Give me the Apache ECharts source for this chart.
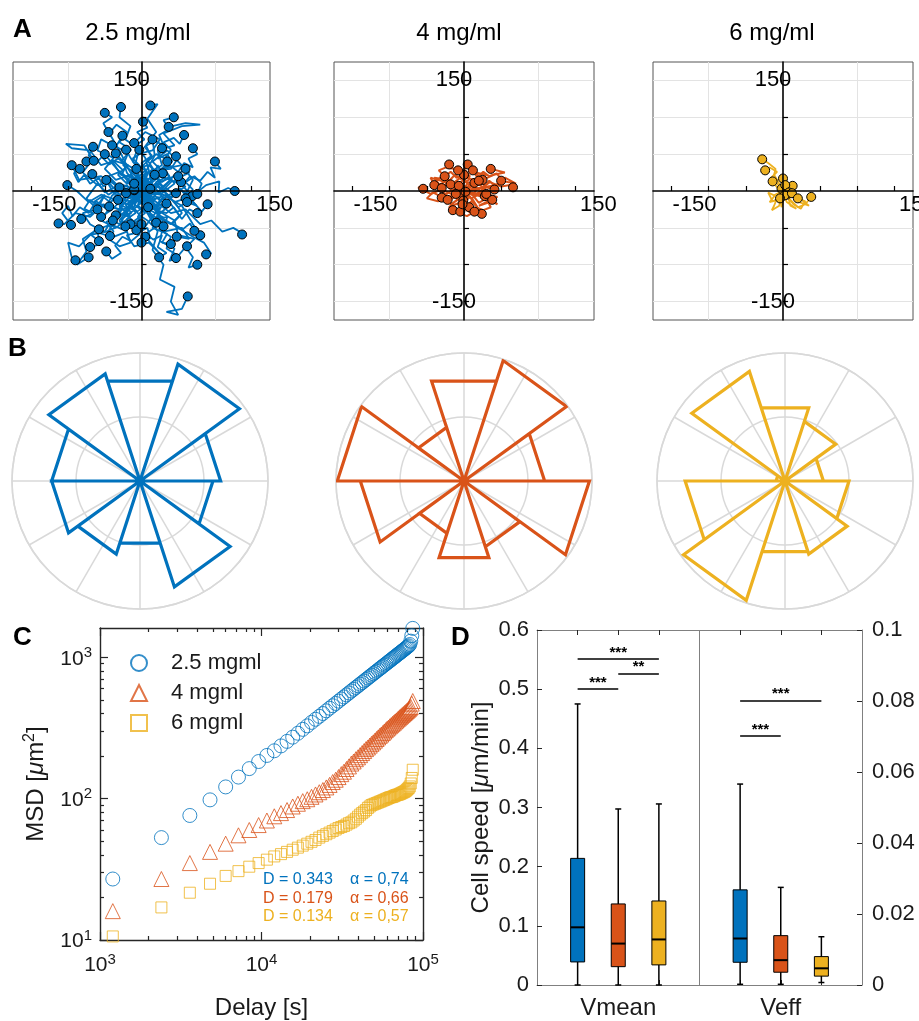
<!DOCTYPE html>
<html><head><meta charset="utf-8">
<script src="https://cdn.jsdelivr.net/npm/echarts@6/dist/echarts.min.js"></script>
<style>html,body{margin:0;padding:0;background:#fff}#c{width:919px;height:1021px}</style>
</head><body><div id="c"></div><script>
// ---------------- DATA ----------------
const concTitles = ['2.5 mg/ml', '4 mg/ml', '6 mg/ml'];
const legendNames = ['2.5 mgml', '4 mgml', '6 mgml'];
const colors = ['#0072BD', '#D95319', '#EDB120'];
const fitD = ['0.343', '0.179', '0.134'];
const fitAlpha = ['0,74', '0,66', '0,57'];

const trackTicks = [-150, -100, -50, 50, 100, 150];
const trackTickLabels = [-150, 150];
const trackGridX = [-100, 100];

const tracks25 = [
 [[0,0],[-8,15],[5,28],[-12,40],[-5,58],[-22,70],[-15,88],[-30,100],[-28,114]],
 [[0,0],[10,12],[-4,30],[14,45],[6,62],[20,80],[8,98],[22,118],[12,116]],
 [[0,0],[15,8],[10,25],[28,35],[22,55],[45,62],[30,78],[55,88],[80,90],[60,92],[37,87]],
 [[0,0],[-15,10],[-5,22],[-25,35],[-18,52],[-35,60],[-26,75]],
 [[0,0],[12,-6],[25,10],[18,28],[40,30],[52,48],[47,47]],
 [[0,0],[-15,5],[-30,-5],[-45,12],[-60,8],[-80,25],[-65,45],[-75,40]],
 [[0,0],[-10,18],[-28,22],[-40,40],[-55,35],[-70,55],[-95,58],[-103,64],[-78,62],[-65,41]],
 [[0,0],[-20,-8],[-35,6],[-50,-2],[-62,15],[-67,23]],
 [[0,0],[-12,-10],[-25,5],[-38,-3],[-48,15]],
 [[0,0],[-20,3],[-35,-12],[-55,-5],[-72,-15],[-88,0],[-101,8]],
 [[0,0],[-18,-10],[-30,-25],[-52,-18],[-70,-35],[-90,-30],[-105,-45],[-113,-44]],
 [[0,0],[18,5],[30,-10],[50,2],[70,-6],[88,8],[106,13],[105,-2],[118,4],[127,0]],
 [[0,0],[15,-12],[35,-5],[50,-22],[68,-12],[82,-28],[90,-18]],
 [[0,0],[20,-20],[38,-15],[55,-38],[65,-25],[76,-30]],
 [[0,0],[22,6],[40,-8],[58,5],[69,-7]],
 [[0,0],[18,20],[30,5],[45,22],[54,12]],
 [[0,0],[20,-15],[40,-30],[60,-25],[80,-45],[95,-40],[110,-55],[125,-50],[142,-60],[137,-59]],
 [[0,0],[-10,-15],[-25,-12],[-30,-35],[-48,-42],[-38,-55],[-43,-61]],
 [[0,0],[-15,-20],[-35,-30],[-50,-55],[-70,-60],[-85,-75],[-100,-70],[-95,-90],[-90,-94]],
 [[0,0],[-20,-25],[-40,-45],[-60,-52],[-80,-65],[-75,-82],[-88,-100],[-72,-90]],
 [[0,0],[10,-20],[25,-30],[15,-50],[35,-58],[28,-70],[40,-72]],
 [[0,0],[20,-25],[45,-40],[50,-60],[72,-65],[62,-75]],
 [[0,0],[12,-30],[30,-45],[25,-68],[45,-78],[38,-95],[47,-91]],
 [[0,0],[25,-35],[50,-50],[70,-62],[85,-70],[95,-85],[88,-86]],
 [[0,0],[8,-30],[22,-55],[15,-80],[30,-100],[25,-120],[45,-130],[40,-150],[50,-168],[34,-164],[55,-160],[63,-143]],
 [[0,0],[10,-15],[25,-22],[15,-35],[20,-43]],
 [[0,0],[-10,-18],[5,-30],[-12,-42],[-7,-53]],
 [[0,0],[12,-10],[2,-18],[9,-22]],
 [[0,0],[-12,8],[-21,-3]],
 [[0,0],[-6,-8],[-10,1]],
 [[0,0],[-15,-20],[-32,-12]],
 [[0,0],[-20,-5],[-30,-25],[-44,-21]],
 [[0,0],[-12,-25],[-28,-20],[-35,-33]],
 [[0,0],[15,-25],[28,-10],[34,-17]],
 [[0,0],[25,10],[38,-12],[47,-3]],
 [[0,0],[-20,-30],[-30,-45],[-39,-40]],
 [[0,0],[15,15],[22,35],[29,24]],
 [[0,0],[8,15],[-10,22],[-7,30]],
 [[0,0],[-20,25],[-25,40],[-35,51]],
 [[0,0],[-5,30],[-15,45],[-21,56]],
 [[0,0],[10,28],[5,45],[-3,56]],
 [[0,0],[-15,-15],[-8,-30],[-20,-38],[-15,-45]],
 [[0,0],[5,-20],[-5,-35],[0,-45]],
 [[0,0],[20,-20],[25,-40],[30,-48]],
 [[0,0],[-25,-10],[-40,-25],[-55,-35]],
 [[0,0],[20,20],[28,30],[35,40]],
 [[0,0],[25,12],[45,20],[60,30]],
 [[0,0],[-20,15],[-38,35],[-50,50]],
 [[0,0],[5,25],[18,48],[15,70]],
 [[0,0],[-18,30],[-30,55],[-45,80]],
 [[0,0],[30,-5],[55,-20],[70,-45],[80,-60]],
 [[0,0],[-30,5],[-55,20],[-85,15],[-95,35]],
 [[0,0],[12,8],[-5,18],[-20,10],[-32,22],[-18,35],[-40,42],[-25,28],[-45,20],[-30,5]],
 [[0,0],[-10,-12],[8,-20],[22,-8],[35,-22],[20,-35],[40,-45],[55,-30],[45,-15],[60,-10]],
 [[0,0],[15,12],[30,25],[15,40],[35,55],[50,40],[65,25],[45,15],[60,5],[50,20]],
 [[0,0],[-18,-5],[-30,-20],[-15,-35],[-35,-50],[-55,-40],[-45,-25],[-65,-15],[-50,-5],[-60,-25]],
 [[0,0],[5,15],[25,20],[10,35],[-10,30],[-5,50],[15,55],[25,70],[5,80],[-10,65]],
 [[0,0],[-5,-20],[15,-35],[0,-55],[-20,-60],[-10,-75],[10,-70],[25,-85],[5,-62]],
 [[0,0],[25,-5],[45,10],[30,30],[55,35],[70,15],[60,-5],[75,-20],[62,-15]],
 [[0,0],[-25,8],[-45,-5],[-60,10],[-75,-10],[-60,-25],[-80,-30],[-70,-45],[-58,-52]],
 [[0,0],[10,-5],[-5,-10],[8,12],[-12,5],[5,-15],[-8,18],[12,3]],
 [[0,0],[-8,6],[6,-4],[-12,-10],[14,10],[-4,14],[3,-12],[-10,2]],
 [[0,0],[20,10],[35,-5],[25,-25],[10,-15],[28,5],[40,15],[18,22]],
 [[0,0],[-15,22],[-35,15],[-50,30],[-38,45],[-60,55],[-55,70],[-40,62]],
 [[0,0],[15,-40],[35,-35],[30,-55],[55,-50],[65,-65],[48,-62]],
 [[0,0],[-30,-40],[-20,-55],[-45,-65],[-30,-75],[-15,-70],[-22,-48]],
 [[0,0],[8,-6],[15,4],[6,14],[18,22],[28,12],[38,20],[30,32],[42,40],[35,50],[22,44],[28,58]],
 [[0,0],[-6,-8],[-16,-2],[-24,-12],[-34,-4],[-42,-16],[-52,-8],[-60,-20],[-70,-12],[-78,-24],[-66,-30],[-82,-38]],
 [[0,0],[4,10],[-6,20],[-16,14],[-26,24],[-20,36],[-32,44],[-44,36],[-54,46],[-62,38],[-72,48],[-66,60]],
 [[0,0],[-4,-12],[6,-22],[-4,-32],[8,-40],[18,-50],[6,-58],[16,-66],[28,-60],[22,-76],[34,-84],[24,-90]],
 [[0,0],[10,4],[22,-4],[34,4],[44,-6],[52,4],[62,-8],[70,2],[60,12],[72,20],[82,10],[76,-4]],
 [[0,0],[-10,6],[-4,16],[-14,26],[-2,34],[-12,44],[0,52],[-8,62],[4,70],[-6,80],[8,86],[2,94]],
 [[0,0],[6,-10],[16,-4],[26,-14],[20,-26],[34,-30],[44,-22],[52,-34],[42,-44],[56,-52],[66,-44],[72,-54]],
 [[0,0],[-8,-6],[-18,-16],[-10,-26],[-22,-34],[-34,-28],[-44,-38],[-36,-50],[-50,-56],[-60,-48],[-68,-60],[-58,-68]],
 [[0,0],[12,10],[4,22],[16,30],[8,42],[20,50],[32,44],[40,56],[30,66],[44,72],[52,64],[58,76]],
 [[0,0],[-12,-4],[-20,8],[-32,2],[-40,14],[-52,6],[-58,18],[-70,10],[-78,22],[-86,12],[-92,24],[-84,30]],
 [[0,0],[2,-14],[-10,-24],[0,-36],[-12,-46],[-2,-58],[-14,-68],[-26,-62],[-36,-74],[-28,-84],[-40,-92],[-48,-82]],
 [[0,0],[14,-2],[20,12],[32,18],[26,30],[40,34],[50,26],[58,38],[70,32],[64,44],[76,50],[70,58]],
 [[0,0],[-14,2],[-8,-12],[-22,-18],[-14,-30],[-28,-38],[-20,-48],[-8,-42],[-4,-56],[8,-50],[12,-64],[0,-70]],
 [[0,0],[6,8],[-8,12],[-2,-6],[10,-4],[-6,-2],[4,16],[-12,-8],[14,6],[-4,-16],[8,-12],[-10,10]],
 [[0,0],[-20,12],[-10,30],[-28,40],[-14,56],[-30,66],[-20,80],[-34,90],[-44,78],[-52,92],[-40,100],[-50,106]],
 [[0,0],[18,-10],[12,-26],[30,-36],[24,-52],[40,-62],[34,-78],[50,-88],[60,-76],[70,-90],[64,-104],[76,-100]],
 [[0,0],[-16,-10],[-26,4],[-40,-6],[-48,-22],[-62,-14],[-72,-30],[-84,-22],[-94,-34],[-100,-20],[-108,-30],[-96,-46]],
 [[0,0],[16,8],[30,2],[42,14],[56,8],[66,20],[80,14],[90,26],[100,18],[94,32],[108,30],[100,40]],
 [[0,0],[-6,14],[8,24],[0,38],[14,48],[4,60],[18,68],[30,62],[24,76],[38,84],[30,96],[44,100]],
 [[0,0],[8,-18],[-6,-28],[-16,-18],[-24,-30],[-12,-40],[-26,-52],[-40,-46],[-48,-60],[-60,-56],[-56,-72],[-70,-76]]
];
const tracks4 = [
 [[0,0],[-5,12],[8,20],[0,30],[5,36]],
 [[0,0],[12,8],[25,15],[40,22],[55,25],[36,30]],
 [[0,0],[-10,8],[-20,5],[-30,22],[-26,20]],
 [[0,0],[-15,-5],[-30,2],[-45,-4],[-62,5],[-55,3]],
 [[0,0],[-8,10],[-18,9]],
 [[0,0],[-4,3],[-7,7]],
 [[0,0],[8,5],[14,11]],
 [[0,0],[20,2],[35,12],[50,6],[62,8],[66,5]],
 [[0,0],[15,-5],[30,5],[41,2]],
 [[0,0],[-12,-8],[-25,-15],[-30,-9]],
 [[0,0],[-6,-6],[-11,-4]],
 [[0,0],[5,-8],[-1,-13]],
 [[0,0],[-5,-15],[7,-22]],
 [[0,0],[12,-12],[20,-25],[24,-31]],
 [[0,0],[15,-3],[28,-7]],
 [[0,0],[2,-1]],
 [[0,0],[-10,-12],[-20,-22],[-15,-26]],
 [[0,0],[-25,12],[-45,18],[-40,8]],
 [[0,0],[30,-10],[45,-18],[38,-12]],
 [[0,0],[-10,5],[-25,-5],[-35,8],[-20,15],[-40,18],[-30,4]],
 [[0,0],[10,-10],[25,-2],[35,-15],[20,-20],[45,-8],[30,-4]],
 [[0,0],[5,12],[20,8],[30,22],[15,25],[25,15]],
 [[0,0],[-5,-10],[-18,-18],[-10,-25],[5,-20],[-5,-28]],
 [[0,0],[15,15],[-5,20],[10,5],[-15,10],[0,22]],
 [[0,0],[25,5],[45,8],[55,18],[70,10],[50,14]],
 [[0,0],[-20,-8],[-35,-14],[-50,-10],[-42,-2],[-22,-12]],
 [[0,0],[6,4],[-4,8],[-12,2],[-6,-6],[4,-2],[10,8],[18,4],[12,-6],[22,-2],[28,8],[20,14]],
 [[0,0],[-6,6],[-16,0],[-24,10],[-32,2],[-38,12],[-30,20],[-20,14],[-12,22],[-4,16],[2,26],[-8,28]],
 [[0,0],[4,-6],[-6,-10],[-14,-4],[-22,-12],[-16,-20],[-6,-16],[2,-22],[10,-14],[16,-20],[8,-8],[-2,-18]],
 [[0,0],[10,2],[18,12],[26,4],[34,14],[42,6],[50,16],[44,24],[34,20],[26,26],[18,18],[12,28]],
 [[0,0],[-8,-2],[-2,10],[8,16],[2,24],[-10,18],[-18,26],[-26,20],[-34,28],[-24,32],[-14,30],[-20,36]],
 [[0,0],[12,-6],[20,-16],[30,-10],[36,-22],[26,-26],[16,-22],[10,-30],[0,-24],[-6,-30],[4,-34],[14,-28]]
];
const tracks6 = [
 [[0,0],[-5,10],[-12,22],[-10,30],[-20,38],[-28,43]],
 [[0,0],[-8,5],[-14,13]],
 [[0,0],[3,10],[0,17]],
 [[0,0],[8,2],[13,7]],
 [[0,0],[3,-3],[5,-5]],
 [[0,0],[10,-12],[20,-22],[30,-18],[38,-8]],
 [[0,0],[-8,-10],[-12,-20],[-15,-26],[-5,-20],[-2,3]],
 [[0,0],[5,-15],[18,-24],[10,-20],[3,8]],
 [[0,0],[-10,-5],[-18,-15],[-8,-12],[8,-2]],
 [[0,0],[-4,-8],[-2,-22],[2,-6]],
 [[0,0],[-12,-6],[-20,-2],[-14,-14],[-4,-10]],
 [[0,0],[12,-6],[22,-15],[35,-20],[25,-12],[12,-3]],
 [[0,0],[-6,8],[-16,18],[-8,26],[-18,32],[-24,28]],
 [[0,0],[6,-8],[14,-18],[24,-24],[30,-14],[20,-10]]
];

// rose histograms: bin edges (deg) and normalised bin lengths
const roseEdgesDeg = [0, 36, 72, 108, 144, 180, 216, 252, 288, 324, 360];
const rose25 = [0.63, 0.96, 0.82, 0.88, 0.69, 0.69, 0.60, 0.51, 0.87, 0.57];
const rose4  = [0.63, 0.99, 0.82, 0.44, 0.99, 0.81, 0.43, 0.63, 0.54, 0.98];
const rose6  = [0.30, 0.49, 0.60, 0.90, 0.07, 0.78, 0.98, 0.58, 0.60, 0.50];

// MSD
const delays = [1200,2400,3600,4800,6000,7200,8400,9600,10800,12000,13200,14400,15600,16800,18000,19200,20400,21600,22800,24000,25200,26400,27600,28800,30000,31200,32400,33600,34800,36000,37200,38400,39600,40800,42000,43200,44400,45600,46800,48000,49200,50400,51600,52800,54000,55200,56400,57600,58800,60000,61200,62400,63600,64800,66000,67200,68400,69600,70800,72000,73200,74400,75600,76800,78000,79200,80400,81600,82800,84000,85200,86400];
const msd25 = [27,53,76,98,121,142,163,183,202,218,236,254,272,290,309,327,346,364,382,400,418,436,454,471,489,507,524,542,559,577,594,611,628,645,662,679,696,713,730,747,764,780,797,814,830,847,863,880,896,913,929,945,962,978,994,1010,1027,1043,1059,1075,1091,1107,1123,1139,1156,1172,1188,1205,1230,1300,1420,1600];
const msd4 = [16,27,35,42,48,55,60,65,70,75,79,83,88,92,96,99,103,107,111,115,120,125,131,136,142,149,155,162,169,177,183,190,196,203,210,217,224,230,237,244,250,257,264,271,278,284,291,298,305,312,318,325,331,338,344,351,357,364,370,377,383,390,396,403,409,416,422,429,436,445,470,490];
const msd6 = [10.6,17,21.6,25,28.4,30.7,33,35,37,39,40.5,42,43.5,45,46.5,48,49.5,51,53,54.5,56,57.5,59,60.5,62,63,64,65.5,67,68,70,72,74.5,77,79,81,83,86,88,90,91,92,93,94,95,96,97,98,99,100,101,102,102.5,103,104,105,106,106.5,107,108,109,110,111,112,113,115,117,119,122,128,140,160];
const xMajor = [1000, 10000, 100000];
const xMinor = [2000,3000,4000,5000,6000,7000,8000,9000,20000,30000,40000,50000,60000,70000,80000,90000];
const yMajor = [10, 100, 1000];
const yMinor = [20,30,40,50,60,70,80,90,200,300,400,500,600,700,800,900];

// Cell speed boxplots: [min, q1, median, q3, max]
const speedGroups = ['Vmean', 'Veff'];
const vmeanStats = [[0,0.039,0.0975,0.214,0.475],[0,0.031,0.070,0.137,0.2975],[0,0.034,0.077,0.142,0.306]];
const veffStats = [[0.0002,0.0064,0.0131,0.0268,0.0566],[0.0002,0.0036,0.0070,0.0139,0.0275],[0.0007,0.0025,0.0047,0.0080,0.0136]];
// significance bars: [fromBox, toBox, level, label]
const sigVmean = [[0,2,0.551,'***'],[1,2,0.526,'**'],[0,1,0.500,'***']];
const sigVeff = [[0,2,0.0801,'***'],[0,1,0.0701,'***']];

// ---------------- CHART ----------------
const FONT = "'Liberation Sans', Arial, Helvetica, sans-serif";
const TXT = '#1a1a1a';
const chart = echarts.init(document.getElementById('c'), null, {renderer:'canvas', width:919, height:1021});
const option = {animation:false, backgroundColor:'#fff', textStyle:{fontFamily:FONT},
  grid:[], xAxis:[], yAxis:[], polar:[], angleAxis:[], radiusAxis:[], series:[], graphic:[]};

// ---- Panel A ----
const aGrids = [[13,257],[334,260],[653,260]];
const aH = 258;
const trackSets = [tracks25, tracks4, tracks6];
const trackWidths = [1.8, 2, 1.8];
aGrids.forEach((g, i) => {
  const gi = option.grid.length;
  option.grid.push({left:g[0], top:62, width:g[1], height:aH, show:true, borderColor:'#555', borderWidth:1, backgroundColor:'#fff', outerBoundsMode:'none'});
  const xm = option.xAxis.length;
  option.xAxis.push({gridIndex:gi, type:'value', min:-175, max:175, z:10, position:'bottom', offset:-aH/2,
    axisLine:{show:true, onZero:false, lineStyle:{color:'#000', width:1.6}},
    axisTick:{show:true, inside:true, length:5, customValues:trackTicks, lineStyle:{color:'#000', width:1.2}},
    axisLabel:{show:true, customValues:trackTickLabels, fontSize:22, color:'#000', margin:3, padding:[0,0,0,46]},
    splitLine:{show:false}});
  option.xAxis.push({gridIndex:gi, type:'value', min:-175, max:175, z:1, position:'top',
    axisLine:{show:false, onZero:false}, axisTick:{show:false, customValues:trackGridX}, axisLabel:{show:false},
    splitLine:{show:true, lineStyle:{color:'#e3e3e3', width:1}}});
  const ym = option.yAxis.length;
  option.yAxis.push({gridIndex:gi, type:'value', min:-175, max:175, z:10, position:'left', offset:-g[1]/2,
    axisLine:{show:true, onZero:false, lineStyle:{color:'#000', width:1.6}},
    axisTick:{show:true, inside:true, length:5, customValues:trackTicks, lineStyle:{color:'#000', width:1.2}},
    axisLabel:{show:true, customValues:trackTickLabels, fontSize:22, color:'#000', align:'center', margin:10},
    splitLine:{show:false}});
  option.yAxis.push({gridIndex:gi, type:'value', min:-175, max:175, z:1, position:'right',
    axisLine:{show:false, onZero:false}, axisTick:{show:false, customValues:trackTicks}, axisLabel:{show:false},
    splitLine:{show:true, lineStyle:{color:'#e3e3e3', width:1}}});
  trackSets[i].forEach(t => option.series.push({type:'line', xAxisIndex:xm, yAxisIndex:ym, data:t, symbol:'none',
    lineStyle:{color:colors[i], width:trackWidths[i]}, silent:true, z:3}));
  option.series.push({type:'scatter', xAxisIndex:xm, yAxisIndex:ym, data:trackSets[i].map(t => t[t.length-1]),
    symbolSize:9, itemStyle:{color:colors[i], borderColor:'#000', borderWidth:1, opacity:1}, silent:true, z:4});
  option.graphic.push({type:'text', x:[138,459,772][i], y:33, style:{text:concTitles[i], font:'24px ' + FONT, fill:'#000', align:'center', verticalAlign:'middle'}});
});

// ---- Panel B ----
const roseSets = [rose25, rose4, rose6];
const roseCx = [140, 464, 785];
roseSets.forEach((r, i) => {
  option.polar.push({center:[roseCx[i], 481], radius:128});
  option.angleAxis.push({polarIndex:i, type:'value', min:0, max:360, startAngle:0, clockwise:false, interval:30,
    axisLine:{show:true, lineStyle:{color:'#d9d9d9', width:1.5}}, axisTick:{show:false}, axisLabel:{show:false},
    splitLine:{show:true, lineStyle:{color:'#d9d9d9', width:1.5}}});
  option.radiusAxis.push({polarIndex:i, type:'value', min:0, max:1, interval:0.5,
    axisLine:{show:false}, axisTick:{show:false}, axisLabel:{show:false},
    splitLine:{show:true, lineStyle:{color:'#d9d9d9', width:1.5}}});
  const pts = [];
  r.forEach((v, k) => { pts.push([0, roseEdgesDeg[k]], [v, roseEdgesDeg[k]], [v, roseEdgesDeg[k+1]], [0, roseEdgesDeg[k+1]]); });
  option.series.push({type:'line', coordinateSystem:'polar', polarIndex:i, data:pts, symbol:'none',
    lineStyle:{color:colors[i], width:3.2, join:'miter'}, silent:true, z:3});
});

// ---- Panel C ----
const cg = option.grid.length;
option.grid.push({left:100, top:628, width:323, height:312, outerBoundsMode:'none'});
const supFmt = v => '{b|10}{s|' + Math.round(Math.log10(v)) + '}';
const supRich = {b:{fontSize:21, lineHeight:24, verticalAlign:'bottom', color:TXT, fontFamily:FONT},
                 s:{fontSize:15, lineHeight:15, padding:[0,0,17,0], verticalAlign:'top', color:TXT, fontFamily:FONT}};
const nameRich = {t:{fontSize:24, lineHeight:26, verticalAlign:'bottom', color:TXT, fontFamily:FONT},
                  i:{fontSize:24, lineHeight:26, verticalAlign:'bottom', fontStyle:'italic', color:TXT, fontFamily:FONT},
                  s:{fontSize:16, lineHeight:16, padding:[0,0,14,0], verticalAlign:'top', color:TXT, fontFamily:FONT}};
const boxLine = {show:true, onZero:false, lineStyle:{color:'#262626', width:1.4}};
const cxMain = option.xAxis.length;
function logAxis(extra) { return Object.assign({gridIndex:cg, type:'log', logBase:10, splitLine:{show:false}, axisLabel:{show:false}, axisLine:{show:false, onZero:false}}, extra); }
option.xAxis.push(logAxis({position:'bottom', min:1000, max:100000, axisLine:boxLine,
  axisTick:{show:true, inside:true, length:8, customValues:xMajor, lineStyle:{color:'#262626', width:1.2}},
  axisLabel:{show:true, customValues:xMajor, formatter:supFmt, rich:supRich, margin:12},
  name:'{t|Delay [s]}', nameLocation:'middle', nameGap:54, nameTextStyle:{rich:nameRich}}));
option.xAxis.push(logAxis({position:'bottom', min:1000, max:100000,
  axisTick:{show:true, inside:true, length:4, customValues:xMinor, lineStyle:{color:'#262626', width:1.2}}}));
option.xAxis.push(logAxis({position:'top', min:1000, max:100000, axisLine:boxLine,
  axisTick:{show:true, inside:true, length:8, customValues:xMajor, lineStyle:{color:'#262626', width:1.2}}}));
option.xAxis.push(logAxis({position:'top', min:1000, max:100000,
  axisTick:{show:true, inside:true, length:4, customValues:xMinor, lineStyle:{color:'#262626', width:1.2}}}));
const cyMain = option.yAxis.length;
option.yAxis.push(logAxis({position:'left', min:10, max:1610, axisLine:boxLine,
  axisTick:{show:true, inside:true, length:8, customValues:yMajor, lineStyle:{color:'#262626', width:1.2}},
  axisLabel:{show:true, customValues:yMajor, formatter:supFmt, rich:supRich, margin:8},
  name:'{t|MSD [}{i|μ}{t|m}{s|2}{t|]}', nameLocation:'middle', nameGap:52, nameTextStyle:{rich:nameRich}}));
option.yAxis.push(logAxis({position:'left', min:10, max:1610,
  axisTick:{show:true, inside:true, length:4, customValues:yMinor, lineStyle:{color:'#262626', width:1.2}}}));
option.yAxis.push(logAxis({position:'right', min:10, max:1610, axisLine:boxLine,
  axisTick:{show:true, inside:true, length:8, customValues:yMajor, lineStyle:{color:'#262626', width:1.2}}}));
option.yAxis.push(logAxis({position:'right', min:10, max:1610,
  axisTick:{show:true, inside:true, length:4, customValues:yMinor, lineStyle:{color:'#262626', width:1.2}}}));
const msdSets = [msd25, msd4, msd6];
const msdSymbols = [['circle',14],['triangle',15],['rect',11]];
msdSets.forEach((m, i) => {
  option.series.push({type:'scatter', name:legendNames[i], xAxisIndex:cxMain, yAxisIndex:cyMain,
    data:delays.map((d, k) => [d, m[k]]), symbol:msdSymbols[i][0], symbolSize:msdSymbols[i][1],
    itemStyle:{color:'rgba(255,255,255,0)', borderColor:colors[i], borderWidth:1}, silent:true, z:3});
  option.graphic.push({type:'text', x:263, y:880 + 18.5*i, style:{text:'D = ' + fitD[i], font:'16px ' + FONT, fill:colors[i], align:'left', verticalAlign:'middle'}});
  option.graphic.push({type:'text', x:350, y:880 + 18.5*i, style:{text:'α = ' + fitAlpha[i], font:'16px ' + FONT, fill:colors[i], align:'left', verticalAlign:'middle'}});
});
option.legend = {data:legendNames, orient:'vertical', left:125, top:647, itemWidth:16, itemHeight:16, itemGap:8,
  selectedMode:false, textStyle:{fontSize:22, color:TXT, padding:[0,0,0,19]}};

// ---- Panel D ----
const dg = option.grid.length;
option.grid.push({left:537, top:630, width:325, height:355, outerBoundsMode:'none'});
const dLine = {show:true, onZero:false, lineStyle:{color:'#808080', width:1}};
const boxPos = [[1,2,3],[5,6,7]];
const dx = option.xAxis.length;
option.xAxis.push({gridIndex:dg, type:'value', min:0, max:8, position:'bottom', axisLine:dLine,
  axisTick:{show:true, inside:true, length:5, customValues:[1,2,3,5,6,7], lineStyle:{color:'#262626'}},
  axisLabel:{show:true, customValues:[2,6], formatter:v => speedGroups[v < 4 ? 0 : 1], fontSize:24, color:TXT, margin:11},
  splitLine:{show:false}});
option.xAxis.push({gridIndex:dg, type:'value', min:0, max:8, position:'top', axisLine:dLine,
  axisTick:{show:true, inside:true, length:5, customValues:[1,2,3,5,6,7], lineStyle:{color:'#262626'}},
  axisLabel:{show:false}, splitLine:{show:false}});
const dyL = option.yAxis.length;
option.yAxis.push({gridIndex:dg, type:'value', min:0, max:0.6, interval:0.1, position:'left', axisLine:dLine,
  axisTick:{show:true, inside:true, length:5, lineStyle:{color:'#262626'}},
  axisLabel:{fontSize:22, color:TXT, margin:8}, splitLine:{show:false},
  name:'{t|Cell speed [}{i|μ}{t|m/min]}', nameLocation:'middle', nameGap:44, nameTextStyle:{rich:nameRich}});
option.yAxis.push({gridIndex:dg, type:'value', min:0, max:0.1, interval:0.02, position:'right', axisLine:dLine,
  axisTick:{show:true, inside:true, length:5, lineStyle:{color:'#262626'}},
  axisLabel:{fontSize:22, color:TXT, margin:10}, splitLine:{show:false}});

function boxRender(params, api) {
  const x = api.value(0);
  const lo = api.coord([x, api.value(1)]), q1 = api.coord([x, api.value(2)]), md = api.coord([x, api.value(3)]);
  const q3 = api.coord([x, api.value(4)]), hi = api.coord([x, api.value(5)]);
  const hw = 7, cw = 3;
  const col = api.visual('color');
  const ls = {stroke:'#000', lineWidth:1.5};
  return {type:'group', children:[
    {type:'line', shape:{x1:lo[0], y1:lo[1], x2:hi[0], y2:hi[1]}, style:ls},
    {type:'line', shape:{x1:hi[0]-cw, y1:hi[1], x2:hi[0]+cw, y2:hi[1]}, style:ls},
    {type:'line', shape:{x1:lo[0]-cw, y1:lo[1], x2:lo[0]+cw, y2:lo[1]}, style:ls},
    {type:'rect', shape:{x:q3[0]-hw, y:q3[1], width:2*hw, height:q1[1]-q3[1]}, style:{fill:col, stroke:'#000', lineWidth:1}},
    {type:'line', shape:{x1:md[0]-hw, y1:md[1], x2:md[0]+hw, y2:md[1]}, style:{stroke:'#000', lineWidth:2}}
  ]};
}
const statSets = [vmeanStats, veffStats];
const sigSets = [sigVmean, sigVeff];
statSets.forEach((stats, gI) => {
  const pos = boxPos[gI];
  const mlData = sigSets[gI].map(s => [
    {coord:[pos[s[0]], s[2]], name:s[3]}, {coord:[pos[s[1]], s[2]]}]);
  if (gI === 0) mlData.push({xAxis:4, lineStyle:{color:'#808080', width:1}, label:{show:false}});
  option.series.push({type:'custom', xAxisIndex:dx, yAxisIndex:dyL + gI, renderItem:boxRender, silent:true, z:3,
    data:stats.map((s, k) => ({value:[pos[k]].concat(s), itemStyle:{color:colors[k]}})),
    markLine:{symbol:'none', silent:true, animation:false,
      lineStyle:{color:'#000', width:1.5, type:'solid'},
      label:{show:true, position:'middle', formatter:'{b}', color:'#000', fontSize:15, fontWeight:'bold', distance:-1},
      data:mlData}});
});

// panel letters
[['A',13,30],['B',8,349],['C',13,638],['D',451,638]].forEach(l => option.graphic.push({type:'text', x:l[1], y:l[2],
  style:{text:l[0], font:'bold 26px ' + FONT, fill:'#000', align:'left', verticalAlign:'middle'}}));

chart.setOption(option);
</script></body></html>
